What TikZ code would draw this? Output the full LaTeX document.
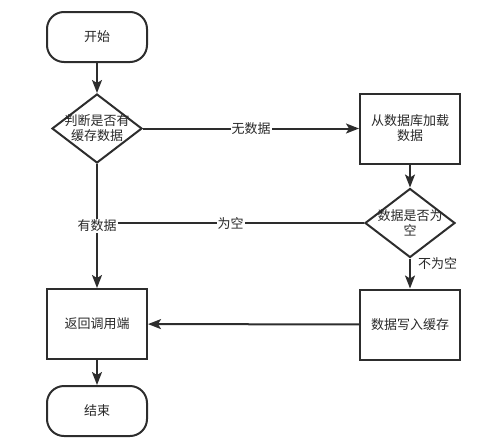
\documentclass[tikz,border=0pt]{standalone}
\usepackage{fontspec}
\setmainfont{Noto Sans CJK SC}
\usepackage{tikz}
\usetikzlibrary{shapes.geometric, arrows.meta, positioning}
\definecolor{linegray}{RGB}{45,45,45}
\definecolor{textgray}{RGB}{40,40,40}
\tikzset{
  term/.style={rectangle,draw=linegray,line width=2pt,rounded corners=17pt,
               minimum width=100pt,minimum height=50pt,
               font=\fontsize{13}{15}\selectfont,text=textgray},
  proc/.style={rectangle,draw=linegray,line width=2pt,
               minimum width=100pt,minimum height=70pt,
               font=\fontsize{13}{15}\selectfont,text=textgray,align=center},
  dec/.style={diamond,draw=linegray,line width=2pt,
              minimum width=90pt,minimum height=69pt,inner sep=0pt},
  dtxt/.style={font=\fontsize{13}{15}\selectfont,text=textgray,align=center},
  arr/.style={-{Stealth[length=13pt,width=10pt,inset=3pt]},line width=2pt,color=linegray},
  ln/.style={line width=2pt,color=linegray},
  lbl/.style={fill=white,font=\fontsize{13}{15}\selectfont,text=textgray,inner sep=1pt},
}
\begin{document}
\begin{tikzpicture}[node distance=30pt and 216pt]
  \useasboundingbox (0,0) rectangle (502pt,-442pt);
  \node[term] (start) at (97pt,-37pt) {开始};
  \node[dec,below=30pt of start,label={[dtxt]center:判断是否有\\缓存数据}] (chk) {};
  \node[proc,right=216pt of chk] (load) {从数据库加载\\数据};
  \node[dec,below=23pt of load,label={[dtxt]center:数据是否为\\空}] (empty) {};
  \node[proc,below=30pt of empty] (write) {数据写入缓存};
  \node[proc,below=124pt of chk] (ret) {返回调用端};
  \node[term,below=25pt of ret] (stop) {结束};
  \coordinate (join) at (chk.south |- empty.west);
  % connectors
  \draw[arr] (start) -- (chk);
  \draw[arr] (chk) -- node[lbl]{无数据} (load);
  \draw[arr] (load) -- (empty);
  \draw[ln] (empty.west) -- node[lbl]{为空} (join);
  \draw[arr] (chk) -- node[lbl]{有数据} (ret);
  \draw[arr] (empty) -- node[pos=0.18,anchor=west,xshift=6pt,font=\fontsize{13}{15}\selectfont,text=textgray,inner sep=1pt]{不为空} (write);
  \draw[arr] (write) -- (ret);
  \draw[arr] (ret) -- (stop);
\end{tikzpicture}
\end{document}
